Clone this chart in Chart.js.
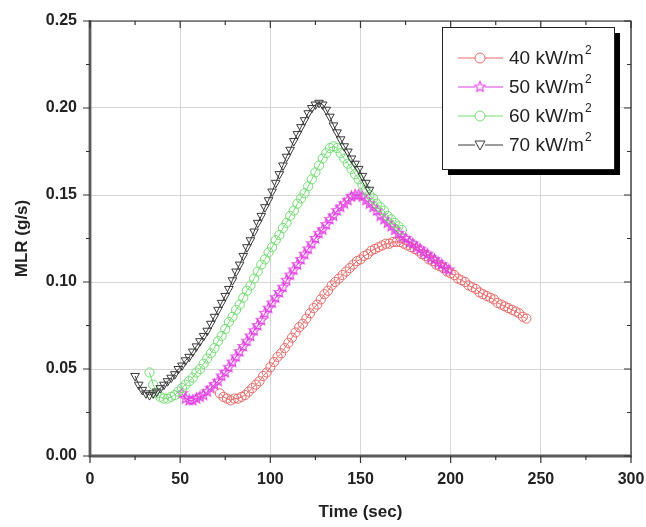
<!DOCTYPE html>
<html>
<head>
<meta charset="utf-8">
<script src="https://cdn.jsdelivr.net/npm/chart.js@4.4.0/dist/chart.umd.min.js"></script>
<style>
html,body{margin:0;padding:0;background:#fff;}
#wrap{width:646px;height:527px;position:relative;}
</style>
</head>
<body>
<div id="wrap"><canvas id="c" width="646" height="527"></canvas></div>
<script>
// ---- data ----
const seriesLabels = ['40 kW/m', '50 kW/m', '60 kW/m', '70 kW/m'];
const xTicks = [0, 50, 100, 150, 200, 250, 300];
const yTicks = [0.00, 0.05, 0.10, 0.15, 0.20, 0.25];

const t40 = [72,74,76,78,80,82,84,86,88,90,92,94,96,98,100,102,104,106,108,110,112,114,116,118,120,122,124,126,128,130,132,134,136,138,140,142,144,146,148,150,152,154,156,158,160,162,164,166,168,170,172,174,176,178,180,182,184,186,188,190,192,194,196,198,200,202,204,206,208,210,212,214,216,218,220,222,224,226,228,230,232,234,236,238,240,242];
const mlr40 = [.036,.034,.033,.032,.033,.033,.034,.035,.037,.039,.041,.043,.046,.048,.051,.054,.057,.059,.062,.065,.068,.071,.074,.076,.079,.082,.085,.087,.090,.093,.095,.098,.100,.102,.104,.106,.108,.110,.112,.113,.115,.116,.118,.119,.120,.121,.122,.122,.123,.123,.123,.122,.121,.120,.119,.118,.116,.115,.113,.112,.110,.109,.108,.106,.105,.104,.102,.101,.100,.098,.097,.096,.094,.093,.092,.091,.090,.088,.087,.086,.085,.084,.083,.082,.080,.079];

const t50 = [51,53,55,57,59,61,63,65,67,69,71,73,75,77,79,81,83,85,87,89,91,93,95,97,99,101,103,105,107,109,111,113,115,117,119,121,123,125,127,129,131,133,135,137,139,141,143,145,147,149,151,153,155,157,159,161,163,165,167,169,171,173,175,177,179,181,183,185,187,189,191,193,195,197,199];
const mlr50 = [.036,.033,.032,.032,.033,.034,.035,.037,.039,.041,.043,.046,.048,.051,.054,.057,.060,.063,.066,.069,.072,.075,.078,.082,.085,.088,.091,.094,.097,.101,.104,.107,.110,.113,.116,.119,.122,.125,.128,.130,.133,.136,.138,.141,.143,.145,.147,.149,.150,.150,.149,.147,.145,.143,.141,.138,.136,.134,.132,.130,.128,.126,.125,.123,.122,.120,.119,.117,.116,.114,.113,.111,.110,.108,.107];

const t60 = [33,35,37,39,41,43,45,47,49,51,53,55,57,59,61,63,65,67,69,71,73,75,77,79,81,83,85,87,89,91,93,95,97,99,101,103,105,107,109,111,113,115,117,119,121,123,125,127,129,131,133,135,137,139,141,143,145,147,149,151,153,155,157,159,161,163,165,167,169,171,173];
const mlr60 = [.048,.041,.036,.034,.033,.033,.034,.035,.037,.039,.041,.043,.045,.048,.050,.053,.056,.059,.062,.066,.069,.073,.077,.080,.084,.087,.091,.095,.098,.102,.106,.110,.113,.117,.120,.124,.127,.131,.134,.138,.141,.145,.148,.151,.155,.159,.163,.167,.171,.174,.177,.178,.177,.174,.171,.168,.165,.162,.159,.156,.153,.150,.148,.145,.143,.141,.138,.136,.134,.132,.130];

const t70 = [25,27,29,31,33,35,37,39,41,43,45,47,49,51,53,55,57,59,61,63,65,67,69,71,73,75,77,79,81,83,85,87,89,91,93,95,97,99,101,103,105,107,109,111,113,115,117,119,121,123,125,127,129,131,133,135,137,139,141,143,145,147,149,151,153,155];
const mlr70 = [.046,.041,.038,.036,.035,.036,.037,.039,.041,.043,.045,.047,.050,.052,.055,.057,.060,.063,.066,.069,.072,.076,.080,.084,.088,.092,.096,.101,.106,.110,.115,.120,.124,.129,.134,.138,.143,.147,.152,.157,.162,.167,.172,.176,.181,.185,.189,.193,.197,.200,.202,.203,.202,.199,.195,.190,.186,.182,.178,.175,.171,.168,.165,.161,.157,.153];

// ---- styling ----
const FONT = '"Liberation Sans", Arial, sans-serif';
const colRed = '#e46a68', colMag = '#e03ce0', colGrn = '#74dc74', colBlk = '#3a3a3a';

function makeStar(color, r) {
  const s = Math.ceil(r * 2 + 4);
  const cv = document.createElement('canvas');
  cv.width = s; cv.height = s;
  const g = cv.getContext('2d');
  g.strokeStyle = color; g.lineWidth = 1.1;
  g.beginPath();
  for (let i = 0; i < 10; i++) {
    const a = -Math.PI / 2 + i * Math.PI / 5;
    const rr = i % 2 === 0 ? r : r * 0.45;
    const x = s / 2 + rr * Math.cos(a), y = s / 2 + rr * Math.sin(a);
    if (i === 0) g.moveTo(x, y); else g.lineTo(x, y);
  }
  g.closePath(); g.stroke();
  return cv;
}
const starImg = makeStar(colMag, 5.5);

function pts(t, v) { return t.map((x, i) => ({x: x, y: v[i]})); }

const datasets = [
  {label: seriesLabels[0], data: pts(t40, mlr40), borderColor: colRed, backgroundColor: 'rgba(0,0,0,0)', pointStyle: 'circle', pointRadius: 4.6, pointBorderWidth: 1, borderWidth: 1, order: 3},
  {label: seriesLabels[1], data: pts(t50, mlr50), borderColor: colMag, backgroundColor: 'rgba(0,0,0,0)', pointStyle: starImg, pointRadius: 5, pointBorderWidth: 1, borderWidth: 1, order: 2},
  {label: seriesLabels[2], data: pts(t60, mlr60), borderColor: colGrn, backgroundColor: 'rgba(0,0,0,0)', pointStyle: 'circle', pointRadius: 4.6, pointBorderWidth: 1, borderWidth: 1, order: 1},
  {label: seriesLabels[3], data: pts(t70, mlr70), borderColor: colBlk, backgroundColor: 'rgba(0,0,0,0)', pointStyle: 'triangle', pointRotation: 180, pointRadius: 5, pointBorderWidth: 1, borderWidth: 1, order: 0}
];

const framePlugin = {
  id: 'frame',
  afterDraw(chart) {
    const ctx = chart.ctx, a = chart.chartArea;
    const xs = chart.scales.x, ys = chart.scales.y;
    ctx.save();
    ctx.strokeStyle = '#222'; ctx.lineWidth = 1.2;
    ctx.beginPath();
    ctx.moveTo(a.left, a.top); ctx.lineTo(a.right, a.top); ctx.lineTo(a.right, a.bottom);
    ctx.stroke();
    ctx.strokeStyle = '#5a5a5a'; ctx.lineWidth = 2.8;
    ctx.beginPath();
    ctx.moveTo(a.left, a.top - 1); ctx.lineTo(a.left, a.bottom); ctx.lineTo(a.right + 1, a.bottom);
    ctx.stroke();
    ctx.lineWidth = 1.2; ctx.strokeStyle = '#333';
    ctx.beginPath();
    for (let v = 0; v <= 300; v += 25) {
      const px = xs.getPixelForValue(v);
      const major = v % 50 === 0;
      const L = major ? 7 : 4;
      ctx.moveTo(px, a.bottom); ctx.lineTo(px, a.bottom + L);
      ctx.moveTo(px, a.top); ctx.lineTo(px, a.top + L);
    }
    for (let k = 0; k <= 10; k++) {
      const v = k * 0.025;
      const py = ys.getPixelForValue(v);
      const major = k % 2 === 0;
      const L = major ? 7 : 4;
      ctx.moveTo(a.left, py); ctx.lineTo(a.left - L, py);
      ctx.moveTo(a.right, py); ctx.lineTo(a.right - L, py);
    }
    ctx.stroke();

    // legend
    const bx = 442, by = 27, bw = 172, bh = 142;
    ctx.fillStyle = '#000';
    ctx.fillRect(bx + 6, by + 6, bw, bh);
    ctx.fillStyle = '#fff';
    ctx.fillRect(bx, by, bw, bh);
    ctx.strokeStyle = '#222'; ctx.lineWidth = 1;
    ctx.strokeRect(bx + 0.5, by + 0.5, bw, bh);
    const rows = [58, 87, 116, 145];
    chart.data.datasets.forEach((ds, i) => {
      const y = rows[i];
      ctx.strokeStyle = ds.borderColor; ctx.lineWidth = 1;
      ctx.beginPath(); ctx.moveTo(458, y); ctx.lineTo(475, y); ctx.moveTo(485, y); ctx.lineTo(503, y); ctx.stroke();
      ctx.beginPath();
      if (i === 1) {
        ctx.drawImage(starImg, 480 - starImg.width / 2, y - starImg.height / 2);
      } else if (i === 3) {
        ctx.moveTo(475, y - 4); ctx.lineTo(485, y - 4); ctx.lineTo(480, y + 5); ctx.closePath(); ctx.stroke();
      } else {
        ctx.arc(480, y, 5, 0, Math.PI * 2); ctx.stroke();
      }
      ctx.fillStyle = '#222';
      ctx.font = '19px ' + FONT;
      ctx.textBaseline = 'middle'; ctx.textAlign = 'left';
      ctx.fillText(ds.label, 509, y + 1);
      const w = ctx.measureText(ds.label).width;
      ctx.font = '12px ' + FONT;
      ctx.fillText('2', 509 + w + 1, y - 7);
    });
    ctx.restore();
  }
};

new Chart(document.getElementById('c'), {
  type: 'scatter',
  data: {datasets: datasets},
  options: {
    responsive: false,
    animation: false,
    devicePixelRatio: 1,
    showLine: true,
    layout: {padding: {top: 21, right: 15, left: 0, bottom: 0}},
    plugins: {legend: {display: false}, tooltip: {enabled: false}},
    scales: {
      x: {
        type: 'linear', min: 0, max: 300,
        afterBuildTicks: s => { s.ticks = xTicks.map(v => ({value: v})); },
        afterFit: s => { s.height = 71; s.paddingRight = 0; s.paddingLeft = 0; },
        grid: {color: '#d6d6d6', lineWidth: 1, drawTicks: false, tickLength: 0},
        border: {display: false},
        ticks: {color: '#222', font: {family: FONT, size: 16, weight: 'bold'}, padding: 14, maxRotation: 0},
        title: {display: true, text: 'Time (sec)', color: '#222', font: {family: FONT, size: 17, weight: 'bold'}, padding: {top: 4, bottom: 4}}
      },
      y: {
        type: 'linear', min: 0, max: 0.25,
        afterBuildTicks: s => { s.ticks = yTicks.map(v => ({value: v})); },
        afterFit: s => { s.width = 90; s.paddingTop = 0; s.paddingBottom = 0; },
        grid: {color: '#d6d6d6', lineWidth: 1, drawTicks: false, tickLength: 0},
        border: {display: false},
        ticks: {color: '#222', font: {family: FONT, size: 16, weight: 'bold'}, padding: 13, callback: v => v.toFixed(2)},
        title: {display: true, text: 'MLR (g/s)', color: '#222', font: {family: FONT, size: 17, weight: 'bold'}, padding: {top: 12, bottom: 4}}
      }
    }
  },
  plugins: [framePlugin]
});
</script>
</body>
</html>
